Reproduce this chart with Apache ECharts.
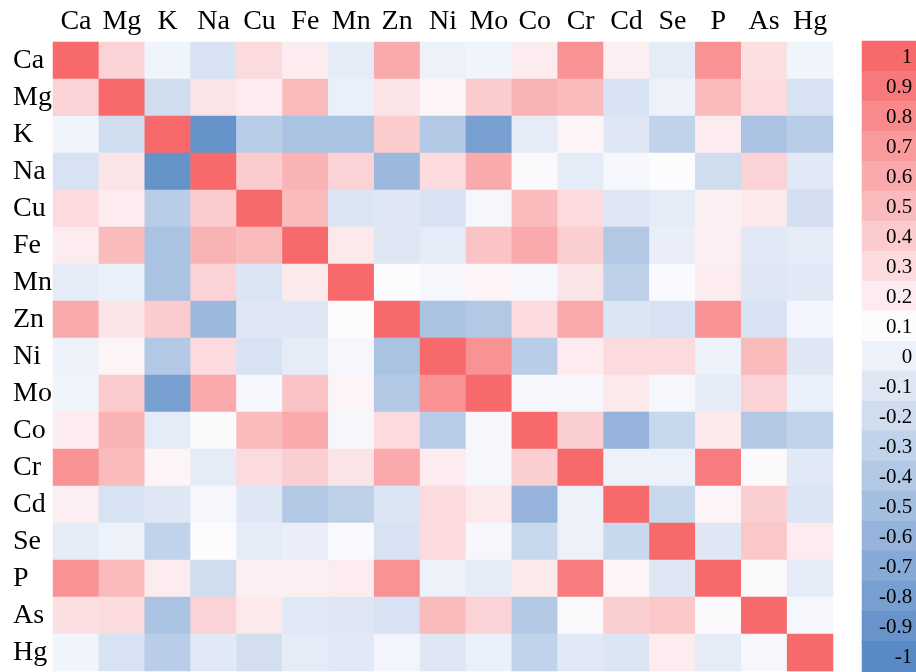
<!DOCTYPE html>
<html>
<head>
<meta charset="utf-8">
<script src="https://cdn.jsdelivr.net/npm/echarts@6/dist/echarts.min.js"></script>
<style>
  html, body { margin: 0; padding: 0; background: #fff; }
  #main { width: 916px; height: 672px; }
</style>
</head>
<body>
<div id="main"></div>
<script>
// elements, in the order of both axes
var elements = ['Ca', 'Mg', 'K', 'Na', 'Cu', 'Fe', 'Mn', 'Zn', 'Ni', 'Mo', 'Co', 'Cr', 'Cd', 'Se', 'P', 'As', 'Hg'];

// correlation matrix, one row per element
var corr = [
  [1, 0.35, 0.02, -0.15, 0.3, 0.2, -0.05, 0.6, 0.0, 0.02, 0.2, 0.75, 0.18, -0.05, 0.75, 0.28, 0.02],
  [0.35, 1, -0.2, 0.25, 0.2, 0.5, -0.02, 0.25, 0.15, 0.4, 0.55, 0.5, -0.15, 0.0, 0.5, 0.3, -0.15],
  [0.02, -0.2, 1, -0.92, -0.35, -0.45, -0.45, 0.4, -0.4, -0.8, -0.05, 0.15, -0.1, -0.3, 0.2, -0.45, -0.35],
  [-0.15, 0.25, -0.92, 1, 0.4, 0.55, 0.35, -0.55, 0.3, 0.6, 0.12, -0.05, 0.05, 0.1, -0.2, 0.35, -0.08],
  [0.3, 0.2, -0.35, 0.4, 1, 0.5, -0.12, -0.1, -0.15, 0.05, 0.5, 0.3, -0.1, -0.05, 0.18, 0.22, -0.18],
  [0.2, 0.5, -0.45, 0.55, 0.5, 1, 0.22, -0.1, -0.05, 0.45, 0.6, 0.38, -0.4, -0.03, 0.18, -0.08, -0.05],
  [-0.05, -0.02, -0.45, 0.35, -0.12, 0.22, 1, 0.1, 0.05, 0.15, 0.05, 0.25, -0.32, 0.08, 0.2, -0.1, -0.08],
  [0.6, 0.25, 0.4, -0.55, -0.1, -0.1, 0.1, 1, -0.45, -0.4, 0.3, 0.6, -0.12, -0.15, 0.75, -0.15, 0.03],
  [0.0, 0.15, -0.4, 0.3, -0.15, -0.05, 0.05, -0.45, 1, 0.75, -0.35, 0.2, 0.3, 0.3, 0.0, 0.5, -0.1],
  [0.02, 0.4, -0.8, 0.6, 0.05, 0.45, 0.15, -0.4, 0.75, 1, 0.05, 0.05, 0.22, 0.05, -0.05, 0.35, -0.02],
  [0.2, 0.55, -0.05, 0.12, 0.5, 0.6, 0.05, 0.3, -0.35, 0.05, 1, 0.38, -0.6, -0.25, 0.22, -0.4, -0.3],
  [0.75, 0.5, 0.15, -0.05, 0.3, 0.38, 0.25, 0.6, 0.2, 0.05, 0.38, 1, 0.0, 0.0, 0.88, 0.12, -0.08],
  [0.18, -0.15, -0.1, 0.05, -0.1, -0.4, -0.32, -0.12, 0.3, 0.22, -0.6, 0.0, 1, -0.25, 0.15, 0.38, -0.12],
  [-0.05, 0.0, -0.3, 0.1, -0.05, -0.03, 0.08, -0.15, 0.3, 0.05, -0.25, 0.0, -0.25, 1, -0.1, 0.42, 0.2],
  [0.75, 0.5, 0.2, -0.2, 0.18, 0.18, 0.2, 0.75, 0.0, -0.05, 0.22, 0.88, 0.15, -0.1, 1, 0.12, -0.05],
  [0.28, 0.3, -0.45, 0.35, 0.22, -0.08, -0.1, -0.15, 0.5, 0.35, -0.4, 0.12, 0.38, 0.42, 0.12, 1, 0.05],
  [0.02, -0.15, -0.35, -0.08, -0.18, -0.05, -0.08, 0.03, -0.1, -0.02, -0.3, -0.08, -0.12, 0.2, -0.05, 0.05, 1]
];

// colour key ticks
var legendTicks = [1, 0.9, 0.8, 0.7, 0.6, 0.5, 0.4, 0.3, 0.2, 0.1, 0, -0.1, -0.2, -0.3, -0.4, -0.5, -0.6, -0.7, -0.8, -0.9, -1];

var fontFamily = "'Liberation Serif', 'Times New Roman', serif";

// three colour scale: blue -> white (at 0.1) -> red
function hex(c) { return [parseInt(c.slice(1, 3), 16), parseInt(c.slice(3, 5), 16), parseInt(c.slice(5, 7), 16)]; }
function colorAt(v) {
  var lo = hex('#5A8AC6'), mid = hex('#FCFCFF'), hi = hex('#F8696B');
  var a, b, t;
  if (v < 0.1) { a = lo; b = mid; t = (v + 1) / 1.1; }
  else { a = mid; b = hi; t = (v - 0.1) / 0.9; }
  var c = a.map(function (x, i) { return Math.round(x + (b[i] - x) * t); });
  return 'rgb(' + c.join(',') + ')';
}
var scaleColors = [];
for (var s = 0; s <= 40; s++) { scaleColors.push(colorAt(-1 + s * 0.05)); }

var heatData = [];
corr.forEach(function (row, i) {
  row.forEach(function (v, j) { heatData.push([j, i, v]); });
});
// key cells get their colour directly (border in the same colour closes the seams)
var keyData = legendTicks.map(function (v, i) {
  var col = colorAt(v);
  return { value: [0, i, v], itemStyle: { color: col, borderColor: col, borderWidth: 2 } };
});

var myChart = echarts.init(document.getElementById('main'));
var option = {
  animation: false,
  textStyle: { fontFamily: fontFamily, color: '#000' },
  grid: [
    { left: 53, top: 42, width: 780, height: 629 },
    { left: 863, top: 42, width: 53, height: 630 }
  ],
  xAxis: [{
    gridIndex: 0,
    type: 'category',
    position: 'top',
    data: elements,
    axisLine: { show: false },
    axisTick: { show: false },
    splitLine: { show: false },
    axisLabel: { interval: 0, fontSize: 28, fontFamily: fontFamily, color: '#000', margin: 6 }
  }, {
    gridIndex: 1,
    type: 'category',
    data: [''],
    show: false
  }],
  yAxis: [{
    gridIndex: 0,
    type: 'category',
    inverse: true,
    data: elements,
    axisLine: { show: false },
    axisTick: { show: false },
    splitLine: { show: false },
    axisLabel: { interval: 0, fontSize: 28, fontFamily: fontFamily, color: '#000', align: 'left', margin: 40 }
  }, {
    gridIndex: 1,
    type: 'category',
    inverse: true,
    data: legendTicks.map(String),
    axisLine: { show: false },
    axisTick: { show: false },
    axisLabel: { show: false },
    splitLine: { show: false },
    splitArea: { show: false }
  }],
  visualMap: {
    show: false,
    min: -1,
    max: 1,
    dimension: 2,
    seriesIndex: [0],
    inRange: { color: scaleColors }
  },
  series: [{
    type: 'heatmap',
    xAxisIndex: 0,
    yAxisIndex: 0,
    data: heatData,
    itemStyle: { borderWidth: 0 },
    emphasis: { disabled: true },
    progressive: 0
  }, {
    type: 'heatmap',
    xAxisIndex: 1,
    yAxisIndex: 1,
    data: keyData,
    emphasis: { disabled: true },
    label: {
      show: true,
      position: 'insideRight',
      distance: 5,
      fontSize: 21,
      fontFamily: fontFamily,
      color: '#000',
      formatter: function (p) { return String(p.value[2]); }
    }
  }]
};
myChart.setOption(option);
</script>
</body>
</html>
